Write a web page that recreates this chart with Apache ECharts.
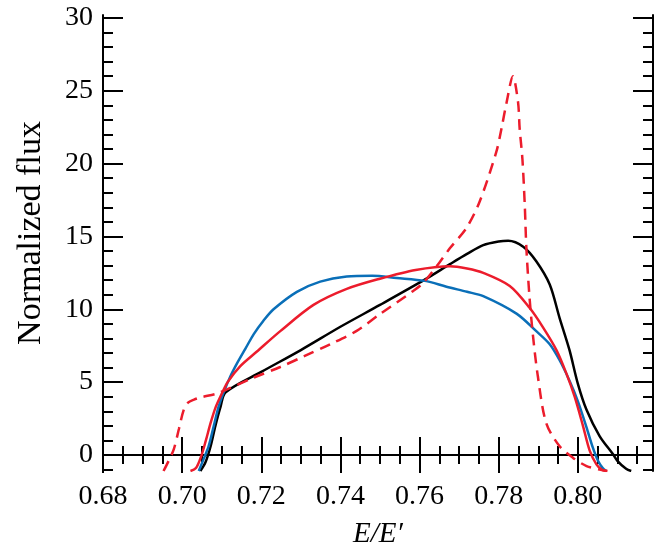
<!DOCTYPE html>
<html><head><meta charset="utf-8">
<script src="https://cdn.jsdelivr.net/npm/echarts@6/dist/echarts.min.js"></script>
<style>html,body{margin:0;padding:0;background:#fff}#c{width:665px;height:554px}</style>
</head><body><div id="c"></div>
<script>
const X_MIN = 0.68, X_MAX = 0.819, Y_MIN = -1.1, Y_MAX = 30.2;
const xMajorTicks = [0.68, 0.70, 0.72, 0.74, 0.76, 0.78, 0.80];
const xMinorTicks = [0.685,0.69,0.695,0.705,0.71,0.715,0.725,0.73,0.735,0.745,0.75,0.755,0.765,0.77,0.775,0.785,0.79,0.795,0.805,0.81,0.815];
const yMajorTicks = [0, 5, 10, 15, 20, 25, 30];
const yMinorTicks = [-1,1,2,3,4,6,7,8,9,11,12,13,14,16,17,18,19,21,22,23,24,26,27,28,29];

const blackCurve = [[0.7046,-1.1],[0.7059,-0.5],[0.7072,0.6],[0.7084,2.0],[0.7097,3.3],[0.7110,4.3],
 [0.7200,5.7],[0.7300,7.2],[0.7400,8.8],[0.7500,10.3],[0.7614,12.05],[0.7677,13.1],[0.7720,13.8],[0.7761,14.4],
 [0.7800,14.65],[0.7824,14.7],[0.7862,14.3],[0.7895,13.3],[0.7929,11.7],[0.7954,9.4],[0.7979,7.2],[0.8000,4.9],
 [0.8022,3.1],[0.8055,1.3],[0.8089,0.05],[0.8100,-0.4],[0.8122,-0.95],[0.8135,-1.1]];
const blueCurve = [[0.7042,-1.1],[0.7054,-0.3],[0.7067,0.6],[0.7080,2.0],[0.7092,3.3],[0.7105,4.3],[0.7122,5.4],
 [0.7139,6.3],[0.7160,7.3],[0.7181,8.3],[0.7205,9.2],[0.7231,10.0],[0.7290,11.2],[0.7349,11.9],[0.7416,12.25],
 [0.7480,12.3],[0.7542,12.15],[0.7614,11.95],[0.7668,11.55],[0.7720,11.2],[0.7761,10.9],[0.7845,9.7],[0.7895,8.5],
 [0.7929,7.6],[0.7954,6.5],[0.7979,5.1],[0.8000,3.7],[0.8022,1.9],[0.8038,0.5],[0.8051,-0.4],[0.8063,-0.9],[0.8072,-1.1]];
const redCurve = [[0.7021,-1.1],[0.7035,-0.9],[0.7048,-0.1],[0.7060,1.0],[0.7072,2.2],[0.7085,3.3],[0.7100,4.2],
 [0.7115,5.0],[0.7147,6.1],[0.7189,7.1],[0.7248,8.5],[0.7332,10.3],[0.7416,11.4],[0.7500,12.1],[0.7590,12.7],
 [0.7677,12.96],[0.7720,12.8],[0.7761,12.5],[0.7828,11.6],[0.7878,10.1],[0.7912,8.76],[0.7946,7.2],[0.7971,5.6],
 [0.7992,4.0],[0.8013,2.0],[0.8030,0.3],[0.8047,-0.65],[0.8060,-1.0],[0.8072,-1.1]];
const redDashedCurve = [[0.6953,-1.1],[0.6966,-0.4],[0.6979,0.4],[0.6992,1.8],[0.7004,3.1],[0.7015,3.6],[0.7030,3.8],
 [0.7046,3.95],[0.7088,4.22],[0.7113,4.5],[0.7180,5.3],[0.7248,6.04],[0.7310,6.8],[0.7374,7.6],[0.7440,8.5],
 [0.7500,9.67],[0.7584,11.26],[0.7609,11.8],[0.7650,13.2],[0.7677,14.2],[0.7719,15.6],[0.7752,17.4],[0.7794,20.8],
 [0.7807,22.4],[0.7820,24.2],[0.7836,26.0],[0.7849,24.2],[0.7853,22.4],[0.7860,20.3],[0.7866,17.1],[0.7870,14.2],
 [0.7878,10.8],[0.7887,8.1],[0.7899,5.4],[0.7920,2.2],[0.7954,0.6],[0.7988,-0.2],[0.8022,-0.76],[0.8055,-1.0],[0.8075,-1.1]];

const FONT = 'Liberation Serif';
const axisLineStyle = {show: true, lineStyle: {color: '#000', width: 2}};
function xAx(pos, ticks, len, withLine, withLabel) {
  return {
    type: 'value', min: X_MIN, max: X_MAX, position: pos,
    axisLine: withLine ? axisLineStyle : {show: false},
    axisTick: {show: true, inside: true, length: len, customValues: ticks, lineStyle: {color: '#000', width: 2}},
    axisLabel: withLabel ? {show: true, customValues: ticks, formatter: v => v.toFixed(2), color: '#000', fontFamily: FONT, fontSize: 28, margin: 12} : {show: false},
    splitLine: {show: false}
  };
}
function yAx(pos, ticks, len, withLine, withLabel) {
  return {
    type: 'value', min: Y_MIN, max: Y_MAX, position: pos,
    axisLine: withLine ? axisLineStyle : {show: false},
    axisTick: {show: true, inside: true, length: len, customValues: ticks, lineStyle: {color: '#000', width: 2}},
    axisLabel: withLabel ? {show: true, customValues: ticks, formatter: v => String(v), color: '#000', fontFamily: FONT, fontSize: 28, margin: 10} : {show: false},
    splitLine: {show: false}
  };
}
const xAxes = [xAx('bottom', xMajorTicks, 18, true, true), xAx('bottom', xMinorTicks, 9, false, false),
               xAx('top', xMajorTicks, 18, true, false), xAx('top', xMinorTicks, 9, false, false)];
xAxes[0].name = 'E/E\u2032';
xAxes[0].nameLocation = 'middle';
xAxes[0].nameGap = 49;
xAxes[0].nameTextStyle = {fontFamily: FONT, fontStyle: 'italic', fontSize: 29, color: '#000'};
const yAxes = [yAx('left', yMajorTicks, 20, true, true), yAx('left', yMinorTicks, 10, false, false),
               yAx('right', yMajorTicks, 20, true, false), yAx('right', yMinorTicks, 10, false, false)];
yAxes[0].name = 'Normalized flux';
yAxes[0].nameLocation = 'middle';
yAxes[0].nameGap = 55;
yAxes[0].nameRotate = 90;
yAxes[0].nameTextStyle = {fontFamily: FONT, fontSize: 34, color: '#000', padding: [0, 0, 0, 20]};

function mk(data, color, dashed) {
  return {type: 'line', data: data, showSymbol: false, smooth: 0.3, clip: true,
    lineStyle: {color: color, width: 2.5, type: dashed ? [11, 7] : 'solid'}, silent: true};
}
const chart = echarts.init(document.getElementById('c'), null, {renderer: 'canvas'});
chart.setOption({
  animation: false,
  backgroundColor: '#fff',
  grid: {left: 103, right: 12, top: 15, bottom: 79, containLabel: false},
  xAxis: xAxes,
  yAxis: yAxes,
  series: [mk(blackCurve, '#000000'), mk(blueCurve, '#0a6fb8'), mk(redCurve, '#ec1c2c'), mk(redDashedCurve, '#ec1c2c', true)]
});
</script></body></html>
